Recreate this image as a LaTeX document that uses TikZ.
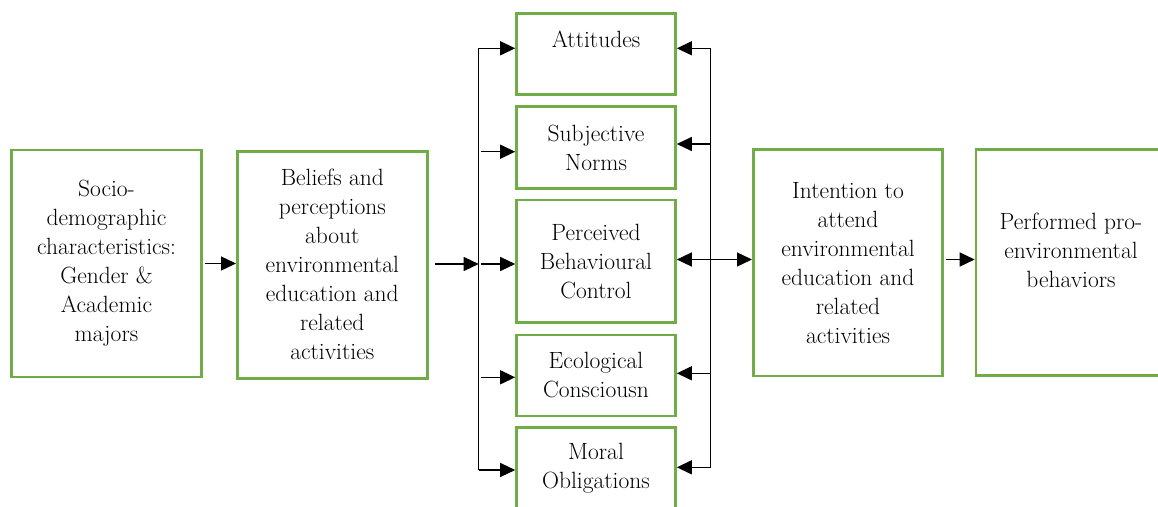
\documentclass[tikz,border=0pt]{standalone}
\usetikzlibrary{arrows.meta}
\definecolor{boxgreen}{RGB}{112,173,71}

\begin{document}
\begin{tikzpicture}[x=1pt,y=-1pt,
    factor/.style ={rectangle, draw=boxgreen, line width=2.6pt, inner sep=0pt, align=center,
                    font=\fontsize{23.5}{29}\selectfont},
    link/.style ={line width=1.3pt, -{Triangle[length=15pt,width=14pt]}}]
   \useasboundingbox (0,0) rectangle (1158,506);
   \clip (0,0) rectangle (1158,506);
   \node[factor, minimum width=190pt, minimum height=227pt] (socio) at (106.5,263.5)
      {Socio-\\demographic\\characteristics:\\Gender \&\\Academic\\majors};
   \node[factor, minimum width=190pt, minimum height=227pt] (beliefs) at (332.3,264.8)
      {Beliefs and\\perceptions\\about\\environmental\\education and\\related\\activities};
   \node[factor, minimum width=159pt, minimum height=81pt] (att) at (596,53.8) {Attitudes\\\mbox{}};
   \node[factor, minimum width=159pt, minimum height=81.6pt] (subj) at (596,147.5) {Subjective\\Norms};
   \node[factor, minimum width=159pt, minimum height=122.7pt] (percv) at (596,261.3)
      {Perceived\\Behavioural\\Control};
   \node[factor, minimum width=159pt, minimum height=81pt] (eco) at (596,375.5) {Ecological\\Consciousn};
   \node[factor, minimum width=159pt, minimum height=81pt] (moral) at (596,468.2) {Moral\\Obligations};
   \node[factor, minimum width=189.4pt, minimum height=226.7pt] (intent) at (848,262.7)
      {Intention to\\attend\\environmental\\education and\\related\\activities};
   \node[factor, minimum width=190pt, minimum height=226pt] (perf) at (1071,262.2)
      {Performed pro-\\environmental\\behaviors\\[-6pt]\mbox{}};
   % left and right bus lines
   \coordinate (l1) at (478.7,48.3);
   \coordinate (l2) at (478.7,151.7);
   \coordinate (l3) at (478.7,264);
   \coordinate (l4) at (478.7,377.3);
   \coordinate (l5) at (478.7,470);
   \coordinate (r1) at (710.7,48.3);
   \coordinate (r2) at (710.7,144);
   \coordinate (r3) at (710.7,259.5);
   \coordinate (r4) at (710.7,373.3);
   \coordinate (r5) at (710.7,467.3);
   \draw[line width=1.3pt] (l1) -- (l5);
   \draw[line width=1.3pt] (r1) -- (r5);
   \draw[link, shorten <=2pt] (socio.east) -- (socio.east -| beliefs.west);
   \draw[link, shorten <=6pt] (beliefs.east |- l3) -- (l3);
   \draw[link] (l1) -- (l1 -| att.west);
   \draw[link, shorten <=2pt] (l2) -- (l2 -| subj.west);
   \draw[link, shorten <=2pt] (l3) -- (l3 -| percv.west);
   \draw[link, shorten <=2pt] (l4) -- (l4 -| eco.west);
   \draw[link] (l5) -- (l5 -| moral.west);
   \draw[link] (r1) -- (r1 -| att.east);
   \draw[link] (r2) -- (r2 -| subj.east);
   \draw[link] (r3) -- (r3 -| percv.east);
   \draw[link] (r3) -- (r3 -| intent.west);
   \draw[link] (r4) -- (r4 -| eco.east);
   \draw[link] (r5) -- (r5 -| moral.east);
   \draw[link, shorten <=2pt] (intent.east |- r3) -- (r3 -| perf.west);
\end{tikzpicture}
\end{document}
